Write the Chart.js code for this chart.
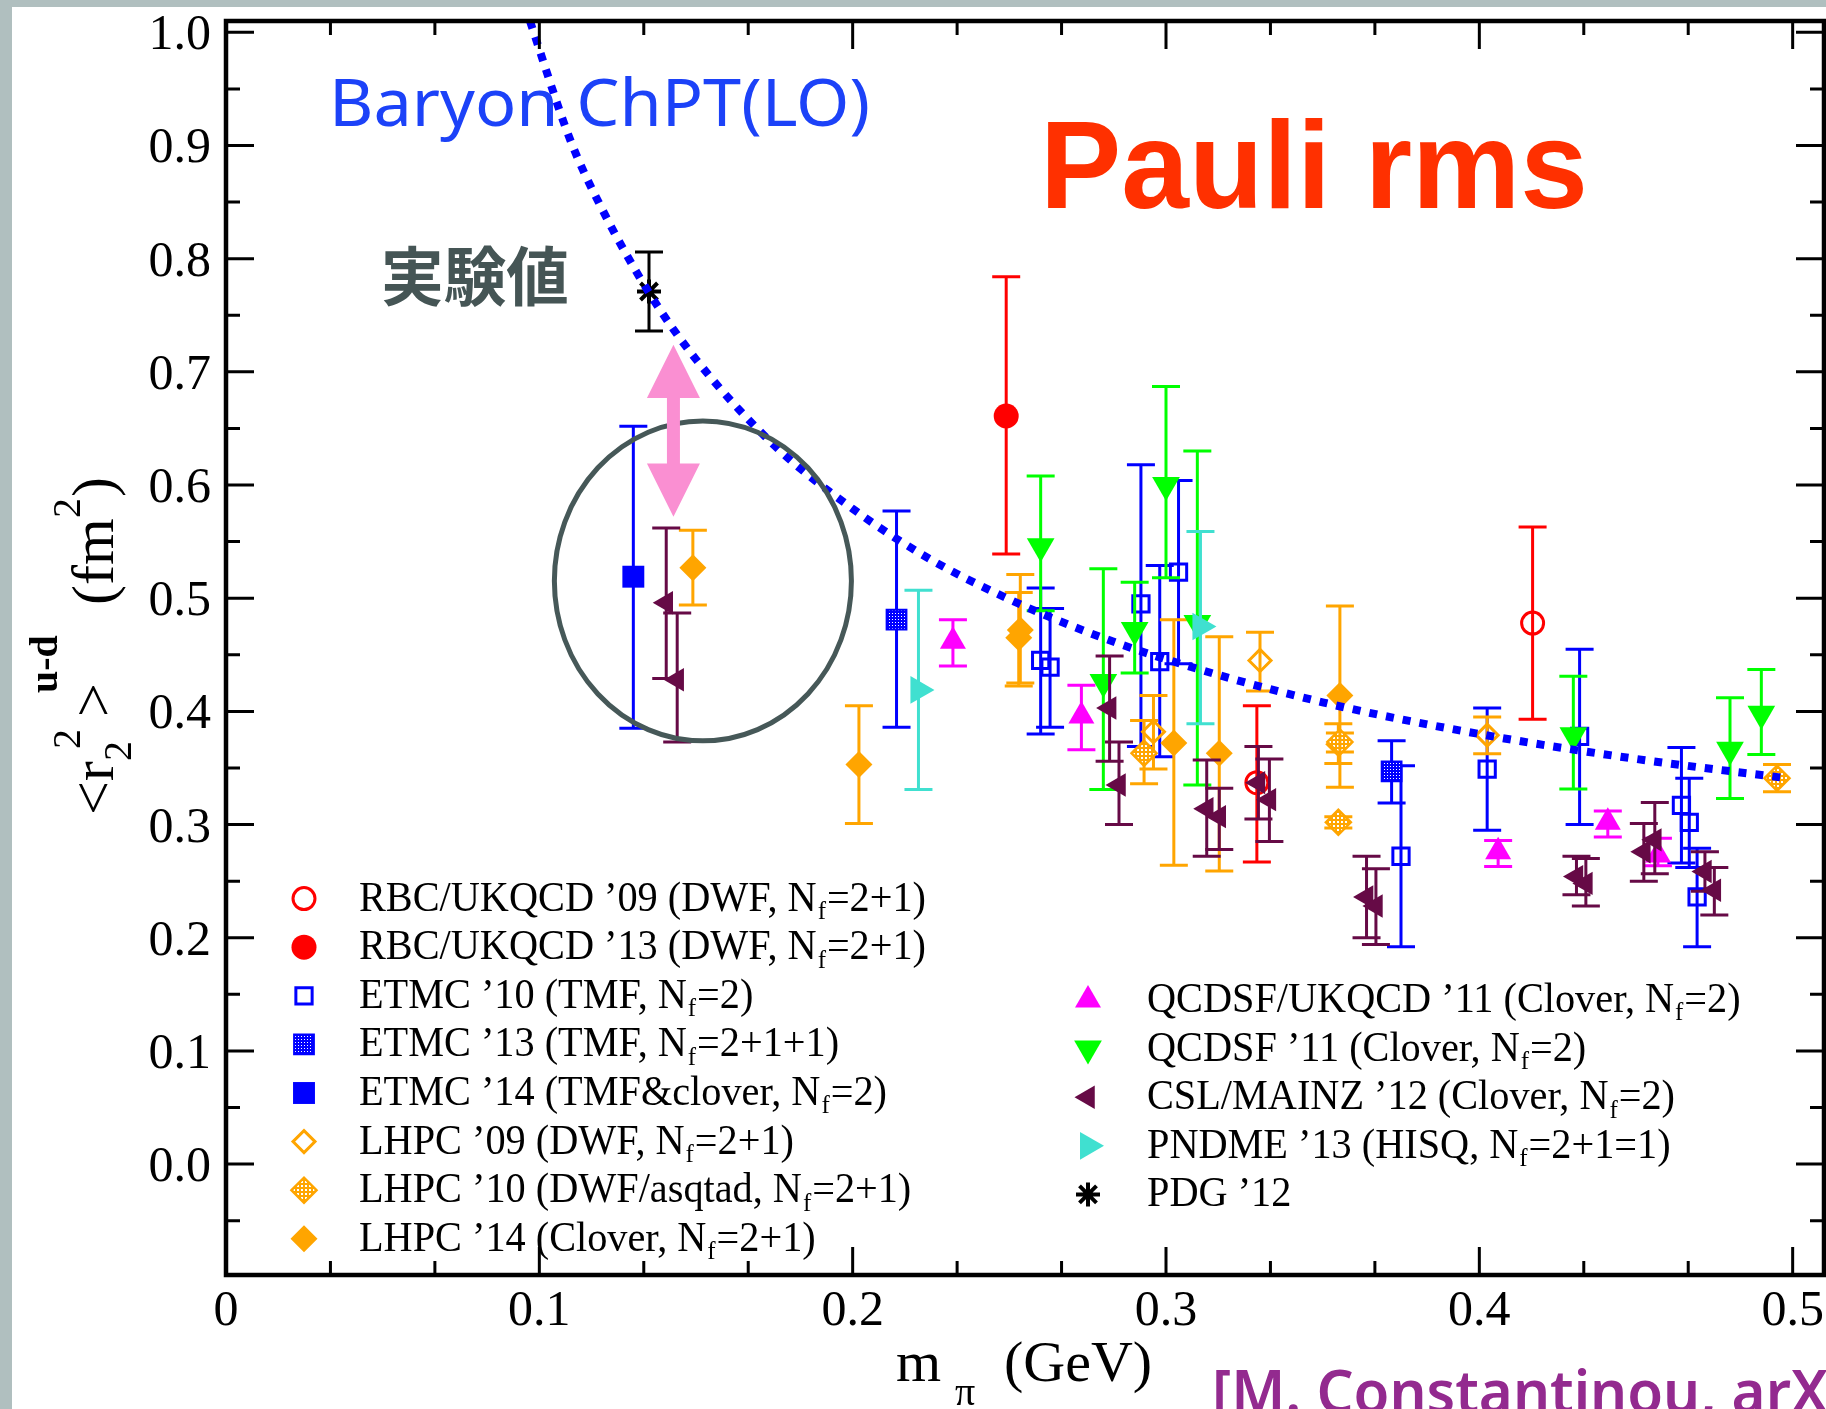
<!DOCTYPE html>
<html>
<head>
<meta charset="utf-8">
<script src="https://cdn.jsdelivr.net/npm/chart.js@4.4.1/dist/chart.umd.min.js"></script>
<style>
html, body { margin: 0; padding: 0; background: #fff; }
canvas { display: block; }
</style>
</head>
<body>
<canvas id="pauliChart" width="1826" height="1409"></canvas>
<script>
// 目盛り（横軸 mπ, 縦軸 <r2^2>）
const xTicks = [0, 0.1, 0.2, 0.3, 0.4, 0.5];
const xTickLabels = ['0', '0.1', '0.2', '0.3', '0.4', '0.5'];
const xMinorTicks = [1, 2, 4, 5, 7, 8, 10, 11, 13, 14].map(k => k / 30);
const yTicks = [0.0, 0.1, 0.2, 0.3, 0.4, 0.5, 0.6, 0.7, 0.8, 0.9, 1.0];
const yTickLabels = ['0.0', '0.1', '0.2', '0.3', '0.4', '0.5', '0.6', '0.7', '0.8', '0.9', '1.0'];
const yMinorTicks = [-0.05, 0.05, 0.15, 0.25, 0.35, 0.45, 0.55, 0.65, 0.75, 0.85, 0.95];

// 各グループの値 [mπ, 値, 誤差上端, 誤差下端]
const rbc09 = [[0.329, 0.337, 0.405, 0.267], [0.417, 0.478, 0.563, 0.393]];
const rbc13 = [[0.249, 0.661, 0.784, 0.539]];
const etmc10 = [
  [0.260, 0.445, 0.509, 0.380], [0.263, 0.439, 0.491, 0.386], [0.292, 0.495, 0.618, 0.369],
  [0.298, 0.444, 0.529, 0.360], [0.304, 0.523, 0.604, 0.442], [0.375, 0.272, 0.352, 0.192],
  [0.4025, 0.349, 0.403, 0.295], [0.432, 0.378, 0.455, 0.300], [0.4645, 0.317, 0.368, 0.266],
  [0.467, 0.302, 0.341, 0.262], [0.4695, 0.236, 0.279, 0.192]
];
const etmc13 = [[0.214, 0.481, 0.577, 0.386], [0.372, 0.347, 0.374, 0.319]];
const etmc14 = [[0.130, 0.519, 0.652, 0.385]];
const lhpc09 = [[0.296, 0.382, 0.414, 0.349], [0.330, 0.445, 0.470, 0.418], [0.355, 0.371, 0.389, 0.354], [0.4025, 0.379, 0.395, 0.3625]];
const lhpc10 = [[0.293, 0.363, 0.392, 0.336], [0.3555, 0.373, 0.381, 0.364], [0.355, 0.302, 0.307, 0.297], [0.495, 0.341, 0.353, 0.329]];
const lhpc14 = [
  [0.149, 0.527, 0.560, 0.494], [0.202, 0.353, 0.405, 0.301], [0.2535, 0.472, 0.521, 0.425],
  [0.253, 0.465, 0.505, 0.4225], [0.3025, 0.372, 0.481, 0.264], [0.317, 0.363, 0.466, 0.259],
  [0.3555, 0.414, 0.493, 0.333]
];
const qcdsfUkqcd11 = [[0.232, 0.462, 0.481, 0.440], [0.273, 0.396, 0.423, 0.366], [0.406, 0.276, 0.286, 0.263], [0.441, 0.302, 0.312, 0.289], [0.457, 0.273, 0.288, 0.2635]];
const qcdsf11 = [
  [0.260, 0.546, 0.608, 0.489], [0.280, 0.426, 0.526, 0.331], [0.290, 0.472, 0.514, 0.434],
  [0.300, 0.600, 0.687, 0.518], [0.310, 0.478, 0.630, 0.335], [0.430, 0.379, 0.431, 0.3315],
  [0.480, 0.366, 0.412, 0.323], [0.490, 0.398, 0.437, 0.362]
];
const cslMainz12 = [
  [0.1405, 0.496, 0.562, 0.429], [0.144, 0.428, 0.487, 0.373], [0.282, 0.403, 0.449, 0.356],
  [0.285, 0.335, 0.373, 0.300], [0.313, 0.314, 0.357, 0.272], [0.317, 0.307, 0.332, 0.278],
  [0.3295, 0.337, 0.369, 0.305], [0.333, 0.322, 0.358, 0.285], [0.364, 0.236, 0.272, 0.200],
  [0.367, 0.228, 0.261, 0.194], [0.431, 0.254, 0.272, 0.238], [0.434, 0.248, 0.270, 0.228],
  [0.4525, 0.276, 0.301, 0.250], [0.456, 0.2865, 0.3195, 0.2565], [0.472, 0.2585, 0.276, 0.241],
  [0.475, 0.242, 0.262, 0.220]
];
const pndme13 = [[0.221, 0.419, 0.507, 0.331], [0.311, 0.475, 0.559, 0.389]];
const pdg12 = [[0.135, 0.771, 0.806, 0.736]];

// Baryon ChPT(LO) の曲線
const chptX = [0.097, 0.11, 0.12, 0.135, 0.15, 0.175, 0.2, 0.225, 0.25, 0.275, 0.3, 0.35, 0.4, 0.45, 0.498];
const chptY = [1.01, 0.904, 0.844, 0.770, 0.711, 0.635, 0.579, 0.534, 0.499, 0.470, 0.446, 0.408, 0.380, 0.358, 0.341];

// 丸印と矢印（データ座標）
const circleNote = { x: 0.1522, y: 0.5153, rx: 0.0474, ry: 0.1413 };
const arrowNote = { x: 0.1428, top: 0.724, bottom: 0.572, head: 0.047 };

const SERIF = "'Liberation Serif', 'DejaVu Serif', serif";
const RED = '#ff0000', BLUE = '#0000ff', ORANGE = '#ffa500', MAGENTA = '#ff00ff',
      GREEN = '#00ff00', PURPLE = '#660a46', TURQ = '#40e0d0', BLACK = '#000000';

const canvas = document.getElementById('pauliChart');
const ctx0 = canvas.getContext('2d');

// 白い点の入った塗りパターン
function dotPattern(color, size, dots) {
  const c = document.createElement('canvas');
  c.width = c.height = size;
  const g = c.getContext('2d');
  g.fillStyle = color;
  g.fillRect(0, 0, size, size);
  g.fillStyle = '#ffffff';
  dots.forEach(([x, y]) => g.fillRect(x, y, 1, 1));
  return ctx0.createPattern(c, 'repeat');
}
const bluePattern = dotPattern(BLUE, 3, [[1, 1]]);
const orangePattern = dotPattern(ORANGE, 4, [[1, 1], [2, 1], [1, 2], [2, 2]]);

const series = [
  { label: 'RBC/UKQCD ’09 (DWF, N_f=2+1)', points: rbc09, color: RED, style: 'circle', rotation: 0, radius: 11, fill: 'rgba(0,0,0,0)', bw: 3, order: 13 },
  { label: 'RBC/UKQCD ’13 (DWF, N_f=2+1)', points: rbc13, color: RED, style: 'circle', rotation: 0, radius: 12.5, fill: RED, bw: 0, order: 12 },
  { label: 'ETMC ’10 (TMF, N_f=2)', points: etmc10, color: BLUE, style: 'rect', rotation: 0, radius: 11.5, fill: 'rgba(0,0,0,0)', bw: 3, order: 11 },
  { label: 'ETMC ’13 (TMF, N_f=2+1+1)', points: etmc13, color: BLUE, style: 'rect', rotation: 0, radius: 14, fill: bluePattern, bw: 2, order: 10 },
  { label: 'ETMC ’14 (TMF&clover, N_f=2)', points: etmc14, color: BLUE, style: 'rect', rotation: 0, radius: 15.5, fill: BLUE, bw: 0, order: 9 },
  { label: 'LHPC ’09 (DWF, N_f=2+1)', points: lhpc09, color: ORANGE, style: 'rectRot', rotation: 0, radius: 11, fill: 'rgba(0,0,0,0)', bw: 3, order: 8 },
  { label: 'LHPC ’10 (DWF/asqtad, N_f=2+1)', points: lhpc10, color: ORANGE, style: 'rectRot', rotation: 0, radius: 12.5, fill: orangePattern, bw: 2.5, order: 7 },
  { label: 'LHPC ’14 (Clover, N_f=2+1)', points: lhpc14, color: ORANGE, style: 'rectRot', rotation: 0, radius: 13.5, fill: ORANGE, bw: 0, order: 6 },
  { label: 'QCDSF/UKQCD ’11 (Clover, N_f=2)', points: qcdsfUkqcd11, color: MAGENTA, style: 'triangle', rotation: 0, radius: 15, fill: MAGENTA, bw: 0, order: 5 },
  { label: 'QCDSF ’11 (Clover, N_f=2)', points: qcdsf11, color: GREEN, style: 'triangle', rotation: 180, radius: 16, fill: GREEN, bw: 0, order: 4 },
  { label: 'CSL/MAINZ ’12 (Clover, N_f=2)', points: cslMainz12, color: PURPLE, style: 'triangle', rotation: 270, radius: 13.5, fill: PURPLE, bw: 0, order: 2 },
  { label: 'PNDME ’13 (HISQ, N_f=2+1=1)', points: pndme13, color: TURQ, style: 'triangle', rotation: 90, radius: 16, fill: TURQ, bw: 0, order: 3 },
  { label: 'PDG ’12', points: pdg12, color: BLACK, style: 'star', rotation: 0, radius: 12, fill: BLACK, bw: 4, order: 1 }
];

const datasets = series.map(s => ({
  label: s.label,
  data: s.points.map(p => ({ x: p[0], y: p[1], hi: p[2], lo: p[3] })),
  showLine: false,
  pointStyle: s.style,
  pointRotation: s.rotation,
  pointRadius: s.radius,
  pointHoverRadius: s.radius,
  pointBackgroundColor: s.fill,
  pointBorderColor: s.color,
  pointBorderWidth: s.bw,
  borderColor: s.color,
  order: s.order
}));
// 曲線は一番上に描く
datasets.push({
  label: 'Baryon ChPT(LO)',
  data: chptX.map((x, i) => ({ x, y: chptY[i] })),
  showLine: true,
  borderColor: BLUE,
  borderWidth: 8,
  borderDash: [8, 9],
  borderCapStyle: 'butt',
  cubicInterpolationMode: 'monotone',
  pointRadius: 0,
  fill: false,
  order: 0
});

function scriptWidth(ctx, label, size) {
  const parts = label.split('_f');
  ctx.font = `${size}px ${SERIF}`;
  let w = ctx.measureText(parts[0]).width;
  if (parts.length > 1) {
    w += ctx.measureText(parts[1]).width;
    ctx.font = `${Math.round(size * 0.62)}px ${SERIF}`;
    w += ctx.measureText('f').width + 2;
  }
  return w;
}

// N_f の f を下付きにして描く
function drawScript(ctx, label, x, y, sx, size) {
  const parts = label.split('_f');
  ctx.save();
  ctx.translate(x, y);
  ctx.scale(sx, 1);
  ctx.font = `${size}px ${SERIF}`;
  ctx.fillText(parts[0], 0, 0);
  let cx = ctx.measureText(parts[0]).width;
  if (parts.length > 1) {
    ctx.font = `${Math.round(size * 0.62)}px ${SERIF}`;
    ctx.fillText('f', cx + 1, size * 0.2);
    cx += ctx.measureText('f').width + 2;
    ctx.font = `${size}px ${SERIF}`;
    ctx.fillText(parts[1], cx, 0);
  }
  ctx.restore();
}

function fitText(ctx, text, x, y, width) {
  const w = ctx.measureText(text).width;
  ctx.save();
  ctx.translate(x, y);
  ctx.scale(width / w, 1);
  ctx.fillText(text, 0, 0);
  ctx.restore();
}

function marker(ctx, s, x, y) {
  ctx.save();
  ctx.fillStyle = s.fill;
  ctx.strokeStyle = s.color;
  ctx.lineWidth = s.bw;
  Chart.helpers.drawPoint(ctx, { pointStyle: s.style, rotation: s.rotation, radius: s.radius, borderWidth: s.bw }, x, y);
  ctx.restore();
}

const decorations = {
  id: 'decorations',
  beforeDraw(chart) {
    const ctx = chart.ctx;
    ctx.save();
    ctx.fillStyle = '#ffffff';
    ctx.fillRect(0, 0, chart.width, chart.height);
    ctx.fillStyle = '#b0bfbf';
    ctx.fillRect(0, 0, chart.width, 7);
    ctx.fillRect(0, 0, 12, chart.height);
    ctx.restore();
  },
  // 誤差棒（各データセットの直前に描く）
  beforeDatasetDraw(chart, args) {
    const ds = chart.data.datasets[args.index];
    if (ds.showLine) return;
    const { ctx, chartArea: a } = chart;
    const xs = chart.scales.x, ys = chart.scales.y;
    ctx.save();
    ctx.beginPath();
    ctx.rect(a.left, a.top, a.right - a.left, a.bottom - a.top);
    ctx.clip();
    ctx.strokeStyle = ds.borderColor;
    ctx.lineWidth = 3;
    ds.data.forEach(p => {
      const px = xs.getPixelForValue(p.x);
      const top = ys.getPixelForValue(p.hi);
      const bot = ys.getPixelForValue(p.lo);
      ctx.beginPath();
      ctx.moveTo(px, top); ctx.lineTo(px, bot);
      ctx.moveTo(px - 14, top); ctx.lineTo(px + 14, top);
      ctx.moveTo(px - 14, bot); ctx.lineTo(px + 14, bot);
      ctx.stroke();
    });
    ctx.restore();
  },
  afterDatasetsDraw(chart) {
    const { ctx, chartArea: a } = chart;
    const xs = chart.scales.x, ys = chart.scales.y;
    ctx.save();

    // 丸印
    const cx = xs.getPixelForValue(circleNote.x), cy = ys.getPixelForValue(circleNote.y);
    ctx.strokeStyle = '#465858';
    ctx.lineWidth = 5;
    ctx.beginPath();
    ctx.ellipse(cx, cy,
      xs.getPixelForValue(circleNote.x + circleNote.rx) - cx,
      cy - ys.getPixelForValue(circleNote.y + circleNote.ry), 0, 0, Math.PI * 2);
    ctx.stroke();

    // ピンクの両矢印
    const ax = xs.getPixelForValue(arrowNote.x);
    const aTop = ys.getPixelForValue(arrowNote.top), aBot = ys.getPixelForValue(arrowNote.bottom);
    const hTop = ys.getPixelForValue(arrowNote.top - arrowNote.head);
    const hBot = ys.getPixelForValue(arrowNote.bottom + arrowNote.head);
    ctx.fillStyle = '#fa8fd2';
    ctx.fillRect(ax - 6.5, hTop - 1, 13, hBot - hTop + 2);
    ctx.beginPath();
    ctx.moveTo(ax, aTop); ctx.lineTo(ax + 26.5, hTop); ctx.lineTo(ax - 26.5, hTop); ctx.closePath();
    ctx.moveTo(ax, aBot); ctx.lineTo(ax + 26.5, hBot); ctx.lineTo(ax - 26.5, hBot); ctx.closePath();
    ctx.fill();

    // 枠と内向きの目盛り
    ctx.strokeStyle = '#000';
    ctx.lineWidth = 3;
    ctx.beginPath();
    const tick = (vals, len) => {
      vals.forEach(v => {
        const px = xs.getPixelForValue(v);
        ctx.moveTo(px, a.bottom); ctx.lineTo(px, a.bottom - len);
        ctx.moveTo(px, a.top); ctx.lineTo(px, a.top + len);
      });
    };
    const ytick = (vals, len) => {
      vals.forEach(v => {
        const py = ys.getPixelForValue(v);
        ctx.moveTo(a.left, py); ctx.lineTo(a.left + len, py);
        ctx.moveTo(a.right, py); ctx.lineTo(a.right - len, py);
      });
    };
    tick(xTicks, 28); tick(xMinorTicks, 14);
    ytick(yTicks, 28); ytick(yMinorTicks, 14);
    ctx.stroke();
    ctx.lineWidth = 4.5;
    ctx.strokeRect(a.left, a.top, a.right - a.left, a.bottom - a.top);

    // 目盛りラベル
    ctx.fillStyle = '#000';
    ctx.font = `50px ${SERIF}`;
    ctx.textBaseline = 'alphabetic';
    ctx.textAlign = 'center';
    xTicks.forEach((v, i) => ctx.fillText(xTickLabels[i], xs.getPixelForValue(v), 1325));
    ctx.textAlign = 'right';
    yTicks.forEach((v, i) => ctx.fillText(yTickLabels[i], 211, ys.getPixelForValue(v) + 17));
    ctx.textAlign = 'left';

    // 軸タイトル
    ctx.font = `58px ${SERIF}`;
    ctx.fillText('m', 896, 1381);
    ctx.fillText('(GeV)', 1004, 1381);
    ctx.font = `40px ${SERIF}`;
    ctx.fillText('π', 955, 1405);

    ctx.save();
    ctx.translate(113, 815);
    ctx.rotate(-Math.PI / 2);
    ctx.font = `60px ${SERIF}`;
    ctx.fillText('<r', 0, 0);
    ctx.fillText('>', 98, 0);
    ctx.fillText('(fm', 210, 0);
    ctx.fillText(')', 318, 0);
    ctx.font = `40px ${SERIF}`;
    ctx.fillText('2', 54, 18);
    ctx.fillText('2', 66, -33);
    ctx.fillText('2', 297, -33);
    ctx.font = `bold 40px ${SERIF}`;
    ctx.fillText('u-d', 122, -56);
    ctx.restore();

    // 凡例（2列）
    const legendSize = 42;
    const sx = 567 / scriptWidth(ctx, series[0].label, legendSize);
    ctx.fillStyle = '#000';
    series.forEach((s, i) => {
      const left = i < 8;
      const row = left ? i : i - 8;
      const base = left ? 910.6 + row * 48.6 : 1012 + row * 48.6;
      marker(ctx, s, left ? 304 : 1088, base - 12);
      ctx.fillStyle = '#000';
      drawScript(ctx, s.label, left ? 359 : 1147, base, sx, legendSize);
    });

    // 注記テキスト
    ctx.fillStyle = '#1c42f8';
    ctx.font = "66px 'Noto Sans', 'DejaVu Sans', sans-serif";
    fitText(ctx, 'Baryon ChPT(LO)', 329, 126, 541);

    ctx.fillStyle = '#ff3000';
    ctx.font = "bold 124px 'Liberation Sans', Arial, sans-serif";
    fitText(ctx, 'Pauli rms', 1040, 208, 548);

    ctx.fillStyle = '#455555';
    ctx.font = "bold 64px 'Noto Sans CJK JP', sans-serif";
    fitText(ctx, '実験値', 381, 300, 188);

    ctx.fillStyle = '#932a8f';
    ctx.font = "600 60px 'Noto Sans', 'DejaVu Sans', sans-serif";
    fitText(ctx, '[M. Constantinou, arX', 1212, 1413, 616);

    ctx.restore();
  }
};

new Chart(canvas, {
  type: 'scatter',
  data: { datasets },
  options: {
    responsive: false,
    devicePixelRatio: 1,
    animation: false,
    events: [],
    layout: { autoPadding: false, padding: { left: 226, right: 2, top: 21, bottom: 134 } },
    scales: {
      x: { type: 'linear', min: 0, max: 0.51, display: false },
      y: { type: 'linear', min: -0.098, max: 1.01, display: false }
    },
    plugins: {
      legend: { display: false },
      tooltip: { enabled: false }
    }
  },
  plugins: [decorations]
});
</script>
</body>
</html>
